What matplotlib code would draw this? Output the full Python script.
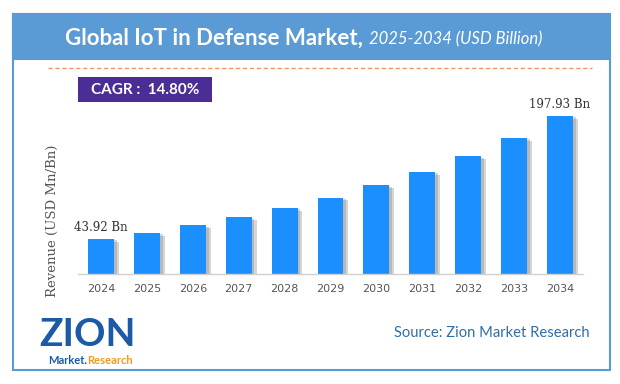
import matplotlib
matplotlib.use("Agg")
import matplotlib.pyplot as plt
import matplotlib.patheffects as pe
from matplotlib.patches import Rectangle
from matplotlib.lines import Line2D

years = ["2024", "2025", "2026", "2027", "2028", "2029",
         "2030", "2031", "2032", "2033", "2034"]
revenue = [43.92, 51.7, 61.1, 71.1, 82.7, 95.7, 111.2, 128.0, 147.5, 170.4, 197.93]
labels = {0: "43.92 Bn", 10: "197.93 Bn"}
cagr_text = "CAGR :  14.80%"

W, H = 620, 384
fig = plt.figure(figsize=(W / 100, H / 100), dpi=100)


def fx(x):
    return x / W


def fy(y):
    return 1 - y / H


band = "#5B9BD5"

# frame and header band
fig.add_artist(Rectangle((fx(13), fy(370)), fx(597), (370 - 14) / H,
                         transform=fig.transFigure, fill=False,
                         edgecolor=band, linewidth=1.5))
fig.add_artist(Rectangle((fx(13), fy(59)), fx(597), 45 / H,
                         transform=fig.transFigure, facecolor=band,
                         edgecolor=band, linewidth=1.5))
fig.text(fx(363), fy(38), "Global IoT in Defense Market,", ha="right", va="center",
         color="white", fontsize=16, fontweight="bold", family="Lato")
fig.text(fx(369), fy(39), "2025-2034 (USD Billion)", ha="left", va="center",
         color="white", fontsize=12, style="italic", family="Lato")

# dashed orange separator
fig.add_artist(Line2D([fx(48), fx(592)], [fy(68), fy(68)], transform=fig.transFigure,
                      color="#F4945A", linestyle=(0, (3, 2)), linewidth=1))

# CAGR badge
fig.add_artist(Rectangle((fx(78), fy(102)), fx(134), 25 / H,
                         transform=fig.transFigure, facecolor="#4A2E96",
                         edgecolor="none"))
fig.text(fx(145), fy(90), cagr_text, ha="center", va="center", color="white",
         fontsize=11, fontweight="bold", family="Lato")

# bar chart
ax = fig.add_axes([fx(78), fy(274), fx(505), 174 / H])
x = list(range(len(years)))
bars = ax.bar(x, revenue, width=0.565, color="#1C8FFF", zorder=2)
for b in bars:
    b.set_path_effects([pe.SimplePatchShadow(offset=(3.5, -2), shadow_rgbFace="#777777",
                                             alpha=0.3),
                        pe.SimplePatchShadow(offset=(2, -1), shadow_rgbFace="#777777",
                                             alpha=0.3),
                        pe.Normal()])
for i, txt in labels.items():
    ax.text(i, revenue[i] + 6, txt, ha="center", va="bottom", fontsize=8.5,
            family="DejaVu Serif", color="#333333")

ax.set_xlim(-0.5, 10.5)
ax.set_ylim(0, 218)
ax.set_xticks(x)
ax.set_xticklabels(years, fontsize=8, color="#555555")
ax.tick_params(axis="x", length=0, pad=7)
ax.set_yticks([])
for s in ["top", "right", "left"]:
    ax.spines[s].set_visible(False)
ax.spines["bottom"].set_color("#D0D0D0")
ax.spines["bottom"].set_linewidth(1)

fig.text(fx(52), fy(221), "Revenue (USD Mn/Bn)", rotation=90, ha="center", va="center",
         fontsize=9.5, family="DejaVu Serif", color="#555555")

# source and logo
fig.text(fx(590), fy(333), "Source: Zion Market Research", ha="right", va="center",
         fontsize=10.6, family="Lato", color="#2F6DA8")
fig.text(fx(88), fy(335), "ZION", ha="center", va="center", fontsize=28,
         fontweight="bold", family="Lato", color="#1B5AA6")
fig.text(fx(87), fy(361), "Market.", ha="right", va="center", fontsize=8,
         fontweight="bold", family="Lato", color="#1B5AA6")
fig.text(fx(87), fy(361), "Research", ha="left", va="center", fontsize=8,
         fontweight="bold", family="Lato", color="#F39A1E")

fig.savefig("out.png", dpi=100)
